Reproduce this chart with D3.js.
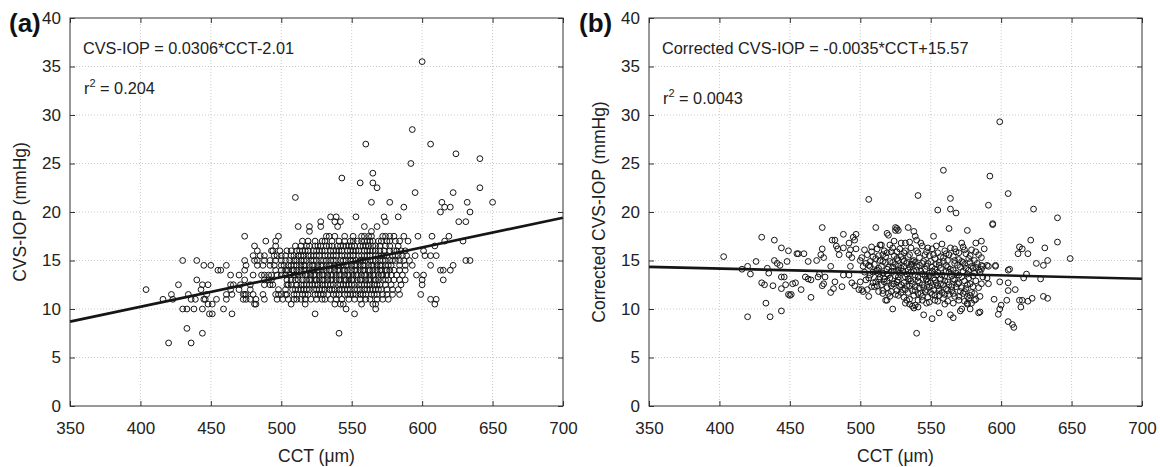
<!DOCTYPE html>
<html>
<head>
<meta charset="utf-8">
<script src="https://cdn.jsdelivr.net/npm/d3@7"></script>
<style>
  body { margin: 0; background: #fff; }
  svg { font-family: "Liberation Sans", Arial, Helvetica, sans-serif; }
</style>
</head>
<body>
<div id="chart"></div>
<script>
// ---- data ----
const xTicks = [350, 400, 450, 500, 550, 600, 650, 700];
const yTicks = [0, 5, 10, 15, 20, 25, 30, 35, 40];

const panelTags = ["(a)", "(b)"];
const yTitles = ["CVS-IOP (mmHg)", "Corrected CVS-IOP (mmHg)"];
const xTitle = "CCT (\u03bcm)";
const equations = ["CVS-IOP = 0.0306*CCT-2.01", "Corrected CVS-IOP = -0.0035*CCT+15.57"];
const r2Values = ["0.204", "0.0043"];
const fitSlope = [0.0306, -0.0035];
const fitIntercept = [-2.01, 15.57];

// panel (a): CVS-IOP comes in 0.5 mmHg steps, CCT values listed per level
const levelsA = [6.5, 7.5, 8, 9.5, 10, 10.5, 11, 11.5, 12, 12.5, 13, 13.5, 14, 14.5, 15, 15.5, 16, 16.5,
  17, 17.5, 18, 18.5, 19, 19.5, 20, 20.5, 21, 21.5, 22, 22.5, 23, 23.5, 24, 25, 25.5, 26, 27, 28.5, 35.5];
const cctA = [
  [420, 436],
  [444, 541],
  [433],
  [449, 451, 465, 524, 552],
  [430, 433, 438, 444, 459, 546, 567],
  [448, 451, 481, 482, 507, 517, 538, 542, 544, 557, 565, 567, 609],
  [416, 423, 436, 439, 445, 446, 454, 461, 473, 475, 478, 482, 488, 497, 501, 511, 514, 517, 521, 529, 531, 535, 548, 552, 560, 568, 606, 610,
   505, 509, 525, 539, 543, 556, 563, 572, 576],
  [422, 434, 447, 461, 465, 473, 474, 475, 480, 487, 496, 498, 500, 503, 504, 511, 515, 519, 524, 528, 533, 537, 541, 545, 549, 553, 556, 560, 564, 568, 572, 584, 599,
   509, 517, 526, 530, 539, 547, 551, 558, 566, 575, 579],
  [404, 443, 464, 470, 478, 498, 503, 508, 512, 516, 520, 523, 527, 531, 534, 538, 541, 545, 549, 552, 556, 559, 563, 567, 571, 575,
   510, 514, 518, 525, 529, 536, 543, 547, 554, 561, 565, 569, 579, 583],
  [427, 444, 448, 464, 466, 471, 478, 488, 492, 494, 504, 505, 511, 514, 518, 522, 526, 529, 533, 537, 540, 544, 548, 552, 555, 559, 563, 566, 570, 600,
   507, 516, 520, 524, 531, 535, 542, 546, 550, 557, 561, 568, 574, 578, 585],
  [440, 474, 488, 491, 493, 504, 510, 512, 515, 518, 521, 524, 527, 530, 533, 536, 539, 542, 545, 548, 551, 554, 557, 560, 563, 566, 569, 572, 576, 580, 600, 615,
   507, 520, 525, 529, 535, 541, 546, 550, 556, 562, 567, 574, 584, 588],
  [464, 470, 480, 486, 488, 491, 493, 500, 506, 509, 512, 515, 518, 521, 524, 527, 530, 533, 536, 539, 542, 545, 548, 551, 554, 557, 560, 563, 566, 569, 572, 575, 578, 582, 596, 601,
   497, 503, 510, 517, 523, 529, 535, 541, 547, 553, 559, 565, 571, 586],
  [455, 457, 474, 500, 503, 504, 505, 508, 511, 514, 517, 520, 523, 526, 529, 532, 535, 538, 541, 544, 547, 550, 553, 556, 559, 562, 565, 568, 571, 574, 577, 580, 584, 613, 615, 620,
   496, 509, 516, 522, 527, 534, 540, 545, 552, 558, 563, 570, 575, 588],
  [445, 450, 461, 475, 483, 487, 492, 500, 505, 507, 511, 514, 517, 520, 523, 526, 529, 532, 535, 538, 541, 544, 547, 550, 553, 556, 559, 562, 565, 568, 571, 574, 578, 584, 606, 622,
   495, 502, 509, 516, 522, 528, 534, 540, 546, 552, 558, 564, 570, 576, 588, 593],
  [430, 440, 474, 481, 483, 488, 492, 496, 500, 506, 511, 514, 518, 521, 525, 528, 532, 535, 539, 542, 546, 549, 553, 556, 560, 563, 567, 570, 574, 577, 581, 584, 631, 634,
   503, 509, 516, 523, 530, 537, 544, 551, 558, 565, 572, 579, 587, 591],
  [480, 485, 488, 495, 497, 503, 509, 512, 516, 519, 523, 527, 531, 535, 539, 543, 547, 551, 555, 559, 563, 567, 571, 575, 579, 583, 589, 595, 602, 606, 610,
   500, 507, 514, 521, 525, 533, 537, 545, 549, 557, 561, 569, 573, 581, 586],
  [483, 493, 494, 504, 511, 515, 519, 523, 527, 531, 535, 539, 543, 547, 551, 555, 559, 563, 567, 570, 577, 582, 588, 601,
   499, 507, 513, 517, 525, 529, 537, 541, 549, 553, 561, 565, 573, 580, 585],
  [481, 496, 510, 520, 524, 528, 532, 536, 540, 544, 548, 552, 556, 560, 565, 570, 577, 583, 609,
   514, 518, 526, 534, 542, 546, 550, 558, 562, 567, 574],
  [489, 496, 515, 524, 529, 531, 536, 549, 554, 557, 561, 565, 569, 575, 577, 584, 590, 616, 629,
   519, 541, 545, 551, 559, 563, 571, 581],
  [474, 498, 532, 534, 557, 559, 564, 572, 574, 577, 587, 597, 607, 619, 538, 545, 551, 562, 580],
  [520, 564],
  [512, 520, 528, 540, 559, 568],
  [528, 538, 542, 574, 626, 631],
  [535, 539, 553, 573, 583],
  [613, 634],
  [587, 616, 620],
  [564, 577, 614, 632, 650],
  [510],
  [595, 622],
  [568, 641],
  [556, 565],
  [543],
  [565],
  [592],
  [641],
  [624],
  [560, 606],
  [593],
  [600]
];

// panel (b): [CCT, corrected CVS-IOP]
const pointsB = [
  [403,15.4],[416,14.1],[420,14.4],[422,13.6],[426,14.9],[430,17.4],[430,12.7],[434,14.2],[435,13.7],[432,12.5],
  [433,10.6],[436,9.2],[420,9.2],[438,12.4],[439,17.1],[439,15.0],[441,14.7],[443,14.5],[444,12.1],[444,9.8],
  [444,16.3],[444,13.3],[446,13.3],[448,14.9],[449,16.0],[447,12.5],[449,11.5],[451,11.5],[452,12.6],[454,12.7],
  [455,15.7],[456,15.7],[458,12.0],[460,15.7],[461,13.3],[463,13.1],[465,13.0],[463,14.9],[465,11.2],[469,15.0],
  [470,13.3],[471,13.6],[472,15.6],[473,16.2],[474,15.3],[473,18.4],[473,12.4],[474,12.6],[475,13.3],[479,11.7],
  [481,12.1],[482,12.8],[479,14.4],[480,17.1],[482,17.1],[483,16.5],[484,16.2],[485,15.6],[488,16.3],[488,17.7],
  [487,12.3],[488,13.5],[492,16.8],[493,16.1],[495,17.4],[496,17.1],[497,17.7],[492,15.6],[494,15.3],[493,14.4],
  [492,13.5],[494,12.7],[496,12.4],[499,12.0],[501,12.0],[502,11.8],[497,16.2],[450,11.4],
  [501,15.3],[502,14.4],[504,14.7],[506,14.5],[507,14.4],[506,21.3],[509,15.4],[512,16.2],[514,16.6],[516,15.6],
  [515,14.4],[516,13.7],[506,11.3],[510,12.3],[513,11.8],[516,11.6],[519,10.9],[511,18.4],[515,16.6],[519,17.8],
  [520,17.6],[526,18.3],[527,18.1],[534,18.4],[523,10.0],[522,15.9],[526,15.9],[527,15.0],[529,15.4],[523,14.3],
  [527,14.0],[531,14.4],[533,14.7],[537,14.6],[540,14.0],[523,12.6],[526,11.9],[529,11.7],[531,11.2],[533,10.9],
  [535,11.0],[537,10.3],[539,10.4],[541,10.9],[538,18.0],[539,17.5],[540,17.1],[541,21.7],[540,7.5],
  [599,29.3],[559,24.3],[592,23.7],[564,21.4],[605,21.9],[555,20.2],[564,20.3],[568,19.9],[591,20.7],[623,20.3],
  [640,19.4],[594,18.7],[563,18.3],[576,18.1],[552,17.5],[582,16.8],[586,17.0],[573,16.4],[572,16.8],[567,16.2],
  [558,16.7],[621,17.1],[640,16.9],[613,16.4],[615,16.2],[612,15.7],[619,15.7],[631,16.3],[649,15.2],[625,14.7],
  [630,14.5],[633,15.0],[596,14.5],[606,14.1],[618,13.6],[616,13.2],[628,13.1],[605,12.7],[599,12.8],[605,11.9],
  [610,12.0],[595,11.0],[613,10.9],[615,10.9],[619,10.8],[622,11.1],[614,10.2],[630,11.3],[633,11.1],[600,10.4],
  [599,10.0],[598,9.45],[605,8.7],[608,8.4],[609,8.1],[584,9.6],[591,12.6],[590,13.2],[586,14.5],[590,14.5],
  [545,9.4],[551,9.0],[556,9.6],[564,9.4],[566,9.1],[571,9.8],[572,10.0],[576,10.5],[585,9.7],[538,10.1],
  [541,10.2],[547,10.6],[553,10.9],[560,10.5],[570,10.9],[576,11.3],[581,10.9],[518,10.9],[525,18.4],[525,18.1],
  [529,16.8],[532,16.8],[535,16.9],[524,17.0],[596,14.4],[591,14.4],[587,14.4],[584,14.0],[580,14.2],[577,14.0],
  [605,14.0],[604,10.9],[582,11.0],[578,10.0],[576,10.6],[594,18.8],
  [503,16.1],[508,16.4],[517,16.0],[521,16.6],[528,16.2],[531,15.8],[536,16.3],[540,16.0],[544,16.5],[547,15.9],
  [551,16.2],[555,15.8],[560,16.0],[563,15.6],[568,15.9],[575,15.7],[579,16.1],[584,15.6],
  [500,15.0],[505,15.6],[511,15.2],[514,15.0],[518,15.4],[521,14.9],[524,15.5],[530,15.1],[534,15.4],[538,15.0],
  [542,15.3],[545,14.9],[549,15.5],[553,15.2],[556,14.8],[559,15.3],[562,15.0],[566,15.4],[570,15.1],[573,14.8],
  [577,15.2],[581,15.0],[586,15.3],
  [510,14.6],[513,14.2],[518,14.8],[520,14.3],[525,14.6],[529,14.2],[535,14.3],[539,14.8],[542,14.5],[546,14.1],
  [548,14.7],[551,14.3],[554,14.6],[557,14.2],[561,14.5],[564,14.1],[567,14.7],[571,14.3],[574,14.6],[579,14.4],
  [583,14.7],
  [503,13.8],[507,13.5],[511,13.9],[514,13.3],[519,13.6],[522,13.9],[525,13.4],[528,13.7],[532,13.3],[536,13.8],
  [539,13.5],[543,13.9],[546,13.4],[549,13.7],[552,13.2],[555,13.8],[558,13.5],[561,13.9],[565,13.4],[568,13.7],
  [572,13.3],[576,13.6],[580,13.4],[585,13.8],
  [500,12.8],[504,13.0],[509,12.7],[513,13.1],[517,12.8],[521,13.2],[524,12.6],[527,13.0],[531,12.7],[534,13.1],
  [537,12.6],[541,12.9],[544,12.5],[547,13.1],[550,12.7],[553,13.0],[557,12.6],[560,12.9],[563,12.5],[567,13.0],
  [570,12.7],[574,12.9],[578,12.6],[582,12.9],
  [505,12.0],[512,12.4],[519,12.2],[522,11.8],[528,12.3],[532,12.0],[535,12.4],[539,11.9],[542,12.2],[546,11.8],
  [549,12.3],[552,12.0],[555,12.4],[558,11.7],[561,12.1],[565,11.9],[568,12.3],[571,11.8],[575,12.1],[579,11.7],
  [584,12.2],
  [521,11.3],[525,11.5],[538,11.4],[543,11.6],[548,11.2],[551,11.5],[556,11.4],[559,11.1],[563,11.5],[567,11.3],
  [573,11.6],[578,11.4],
  [508,15.9],[513,15.5],[519,15.8],[523,16.3],[526,15.2],[532,16.0],[535,15.6],[537,14.9],[541,15.8],[543,16.8],
  [546,15.6],[548,16.3],[552,15.6],[554,16.5],[557,15.4],[561,15.7],[564,16.3],[567,15.0],[570,15.8],[574,16.1],
  [578,15.5],[582,15.9],[588,16.2],
  [507,14.9],[512,14.0],[516,14.9],[519,14.1],[523,14.8],[527,14.4],[531,14.9],[534,14.0],[536,14.6],[540,14.4],
  [544,14.7],[547,14.4],[550,14.9],[553,14.1],[556,14.5],[559,14.9],[562,14.3],[566,14.0],[569,14.5],[572,14.9],
  [575,14.2],[578,14.8],[582,14.3],[586,14.1],
  [506,13.2],[509,13.8],[513,13.6],[517,13.1],[520,13.5],[524,13.9],[527,13.3],[530,13.9],[533,13.6],[535,13.1],
  [538,13.9],[541,13.3],[544,13.6],[547,13.0],[549,13.4],[551,13.9],[554,13.5],[557,13.1],[560,13.4],[563,13.8],
  [566,13.1],[570,13.5],[573,13.9],[577,13.2],[581,13.7],[587,13.3],
  [508,12.3],[511,12.8],[515,12.5],[519,12.9],[522,12.4],[526,12.8],[529,12.5],[533,12.4],[536,12.9],[539,12.3],
  [542,12.7],[545,12.2],[548,12.8],[551,12.4],[554,12.7],[556,12.1],[559,12.5],[562,12.8],[565,12.3],[569,12.6],
  [572,12.2],[576,12.5],[580,12.3],[586,12.6],
  [516,11.9],[520,11.6],[527,11.4],[530,12.0],[534,11.7],[537,11.9],[541,11.6],[544,11.3],[547,12.0],[550,11.7],
  [553,11.4],[556,11.9],[560,11.5],[562,11.9],[566,11.6],[570,11.3],[574,11.8],[577,11.1],[581,11.6],[585,11.3],
  [532,10.6],[535,10.5],[544,10.9],[549,10.7],[555,10.8],[562,10.8],[566,10.6],[574,10.8],[579,10.6]
];

// ---- layout ----
const W = 1160, H = 467;
const plotTop = 18, plotBottom = 406, plotW = 493;
const panelLeft = [70, 649];
const tagLeft = [9, 579];

const pointsA = [];
levelsA.forEach((lv, i) => cctA[i].forEach(c => pointsA.push([c, lv])));
const panelData = [pointsA, pointsB];

const svg = d3.select("#chart").append("svg")
  .attr("width", W)
  .attr("height", H);

const y = d3.scaleLinear().domain([0, 40]).range([plotBottom, plotTop]);

panelLeft.forEach((left, i) => {
  const x = d3.scaleLinear().domain([350, 700]).range([left, left + plotW]);
  const g = svg.append("g");

  // dotted grid
  g.append("g").selectAll("line")
    .data(xTicks.slice(1, -1))
    .enter().append("line")
    .attr("x1", d => x(d)).attr("x2", d => x(d))
    .attr("y1", plotTop).attr("y2", plotBottom)
    .attr("stroke", "#bdbdbd").attr("stroke-width", 0.8)
    .attr("stroke-dasharray", "1,2");
  g.append("g").selectAll("line")
    .data(yTicks.slice(1, -1))
    .enter().append("line")
    .attr("x1", left).attr("x2", left + plotW)
    .attr("y1", d => y(d)).attr("y2", d => y(d))
    .attr("stroke", "#bdbdbd").attr("stroke-width", 0.8)
    .attr("stroke-dasharray", "1,2");

  // scatter
  g.append("g").selectAll("circle")
    .data(panelData[i])
    .enter().append("circle")
    .attr("cx", d => x(d[0]))
    .attr("cy", d => y(d[1]))
    .attr("r", 2.9)
    .attr("fill", "none")
    .attr("stroke", "#151515")
    .attr("stroke-width", 1);

  // regression line
  const dom = x.domain();
  g.append("line")
    .attr("x1", x(dom[0])).attr("y1", y(fitSlope[i] * dom[0] + fitIntercept[i]))
    .attr("x2", x(dom[1])).attr("y2", y(fitSlope[i] * dom[1] + fitIntercept[i]))
    .attr("stroke", "#151515").attr("stroke-width", 2.6);

  // axes: ticks inward, box around
  g.append("g").attr("transform", `translate(0,${plotBottom})`)
    .call(d3.axisBottom(x).tickValues(xTicks).tickSize(-5).tickPadding(16))
    .call(a => a.select(".domain").remove())
    .call(a => a.selectAll("text").style("font-size", "17px").attr("fill", "#222"));
  g.append("g").attr("transform", `translate(0,${plotTop})`)
    .call(d3.axisTop(x).tickValues(xTicks).tickSize(-5).tickFormat(""))
    .call(a => a.select(".domain").remove());
  g.append("g").attr("transform", `translate(${left},0)`)
    .call(d3.axisLeft(y).tickValues(yTicks).tickSize(-5).tickPadding(9))
    .call(a => a.select(".domain").remove())
    .call(a => a.selectAll("text").style("font-size", "17px").attr("fill", "#222"));
  g.append("g").attr("transform", `translate(${left + plotW},0)`)
    .call(d3.axisRight(y).tickValues(yTicks).tickSize(-5).tickFormat(""))
    .call(a => a.select(".domain").remove());
  g.selectAll(".tick line").attr("stroke", "#333");

  g.append("rect")
    .attr("x", left).attr("y", plotTop)
    .attr("width", plotW).attr("height", plotBottom - plotTop)
    .attr("fill", "none").attr("stroke", "#333").attr("stroke-width", 1);

  // titles
  g.append("text")
    .attr("x", left + plotW / 2).attr("y", 462)
    .attr("text-anchor", "middle")
    .style("font-size", "17.5px").attr("fill", "#222")
    .text(xTitle);
  g.append("text")
    .attr("transform", `translate(${left - 44},${(plotTop + plotBottom) / 2}) rotate(-90)`)
    .attr("text-anchor", "middle")
    .style("font-size", "17.5px").attr("fill", "#222")
    .text(yTitles[i]);

  g.append("text")
    .attr("x", tagLeft[i]).attr("y", 32)
    .style("font-size", "26px").style("font-weight", "bold").attr("fill", "#111")
    .text(panelTags[i]);

  // annotations
  g.append("text")
    .attr("x", left + 13).attr("y", 54)
    .style("font-size", "16.3px").attr("fill", "#222")
    .text(equations[i]);
  const r2 = g.append("text")
    .attr("x", left + 14).attr("y", i === 0 ? 94 : 104)
    .style("font-size", "16.3px").attr("fill", "#222");
  r2.append("tspan").text("r");
  r2.append("tspan").attr("dy", -7).style("font-size", "11px").text("2");
  r2.append("tspan").attr("dy", 7).text(" = " + r2Values[i]);
});
</script>
</body>
</html>
